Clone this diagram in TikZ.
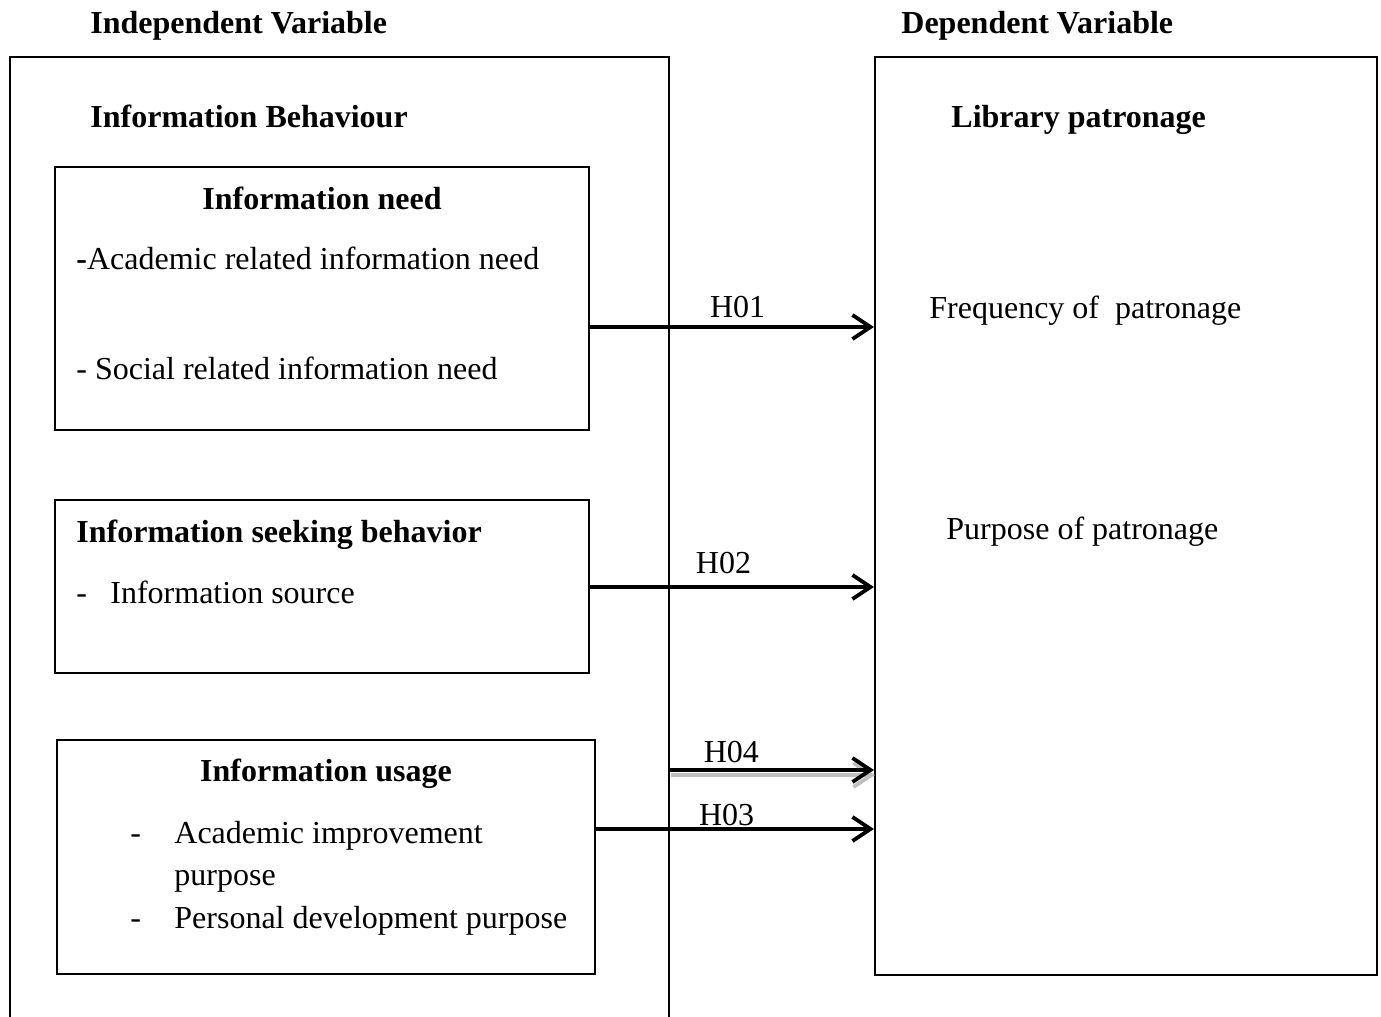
\documentclass[tikz,border=0pt]{standalone}
\usepackage{fontspec}
\setmainfont{Liberation Serif}
\usetikzlibrary{arrows.meta,fit}

\begin{document}
\begin{tikzpicture}[x=0.5pt, y=-0.5pt,
	every node/.style={font=\fontsize{16}{19}\selectfont},
	bf/.style={font=\fontsize{16}{19}\selectfont\bfseries},
	box/.style={draw, line width=1.1pt, inner sep=0pt},
	txt/.style={anchor=base west, inner sep=0pt},
	hyp/.style={-{Straight Barb[length=9pt,width=12pt]}, line width=1.9pt},
	hlab/.style={anchor=base, inner sep=0pt, yshift=#1}]
	\useasboundingbox (0,0) rectangle (1381,1017);
	\clip (0,0) rectangle (1381,1017);
	% headings
	\node[txt, bf] (ivar) at (90,33) {Independent Variable};
	\node[txt, bf] (dvar) at (901,33) {Dependent Variable};
	% outer boxes
	\node[box, line width=1.2pt, fit={(10,57) (669,1040)}] (indep) {};
	\node[box, fit={(875,57) (1377,975)}] (pat) {};
	\node[txt, bf] (ib) at (90,127) {Information Behaviour};
	\node[txt, bf] (lp) at (951,127) {Library patronage};
	\node[txt] (freq) at (929,318) {Frequency of\ \ patronage};
	\node[txt] (purp) at (946,539) {Purpose of patronage};
	% information need
	\node[box, fit={(55,167) (589,430)}] (need) {};
	\node[bf, anchor=base, inner sep=0pt] (needt) at (322,209) {Information need};
	\node[txt] (acad) at (76,269) {{\bfseries -}Academic related information need};
	\node[txt] (soc) at (76,379) {- Social related information need};
	% information seeking
	\node[box, fit={(55,500) (589,673)}] (seek) {};
	\node[txt, bf] (seekt) at (76,542) {Information seeking behavior};
	\node[txt] (srcd) at (76,603) {-};
	\node[txt] (src) at (110,603) {Information source};
	% information usage
	\node[box, fit={(57,740) (595,974)}] (use) {};
	\node[bf, anchor=base, inner sep=0pt] (uset) at (326,781) {Information usage};
	\foreach \y/\t in {843/Academic improvement, 885/purpose, 928/Personal development purpose}
		\node[txt] at (174,\y) {\t};
	\foreach \y in {843, 928}
		\node[txt] at (130,\y) {-};
	% hypotheses
	\foreach \src/\y/\h/\p/\g in {need/327/H01/0.52/5pt, seek/587/H02/0.47/7pt, use/829/H03/0.47/2pt}
		\draw[hyp] (\src.east |- 0,\y) -- (pat.west |- 0,\y) node[hlab=\g, pos=\p] {\h};
	\draw[hyp, gray!50, transform canvas={shift={(0.5pt,-2.5pt)}}] (indep.east |- 0,770) -- (pat.west |- 0,770);
	\draw[hyp] (indep.east |- 0,770) -- (pat.west |- 0,770) node[hlab=4pt, pos=0.30] {H04};
\end{tikzpicture}
\end{document}
